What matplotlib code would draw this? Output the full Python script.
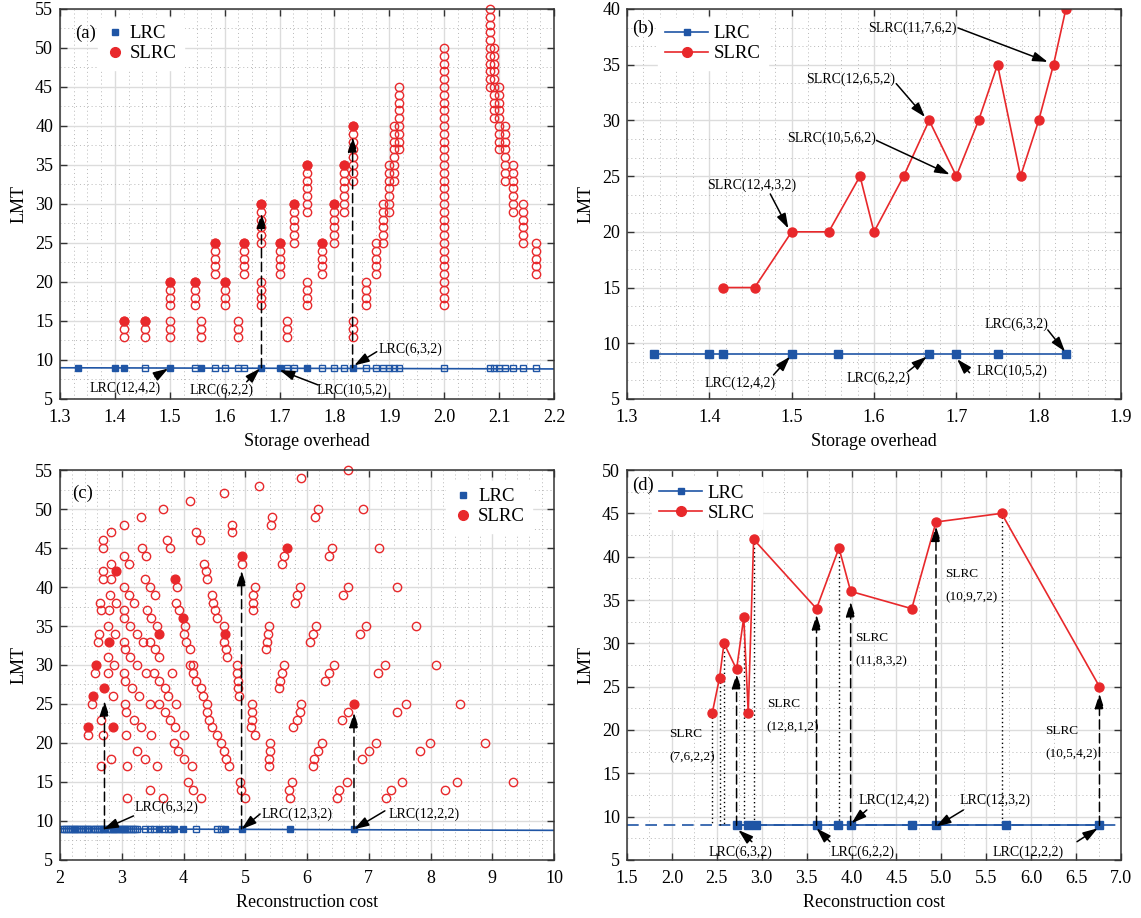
import matplotlib
matplotlib.use("Agg")
import matplotlib.pyplot as plt
from matplotlib.ticker import MultipleLocator, AutoMinorLocator
from matplotlib.lines import Line2D

plt.rcParams["font.family"] = ["Liberation Serif", "DejaVu Serif"]

BLUE = "#1f55a5"
RED = "#e8282b"

# LMT of every LRC code
LRC_LMT = 9

# (b) storage overhead, Pareto codes
lrc_b_x = [1.333, 1.4, 1.417, 1.5, 1.556, 1.667, 1.7, 1.75, 1.833]
slrc_b_x = [1.417, 1.455, 1.5, 1.545, 1.583, 1.6, 1.636, 1.667, 1.7, 1.727,
            1.75, 1.778, 1.8, 1.818, 1.833]
slrc_b_lmt = [15, 15, 20, 20, 25, 20, 25, 30, 25, 30, 35, 25, 30, 35, 40]

# (a) all codes over storage overhead
lrc_a_open_x = [1.455, 1.545, 1.583, 1.6, 1.625, 1.636, 1.714, 1.727, 1.778,
                1.8, 1.818, 1.857, 1.875, 1.889, 1.9, 1.909, 1.917, 2.0,
                2.083, 2.091, 2.1, 2.111, 2.125, 2.143, 2.167]
lrc_a_line_x = [1.3, 2.2]
lrc_a_line_y = [9.0, 8.85]
slrc_a_x = [1.417, 1.455, 1.5, 1.545, 1.556, 1.583, 1.6, 1.625, 1.636, 1.667,
            1.7, 1.714, 1.727, 1.75, 1.778, 1.8, 1.818, 1.833, 1.857, 1.875,
            1.889, 1.9, 1.909, 1.917, 2.0, 2.083, 2.091, 2.1, 2.111, 2.125,
            2.143, 2.167]
slrc_a_lmt = [
    [13, 14, 15],
    [13, 14, 15],
    [13, 14, 15, 17, 18, 19, 20],
    [17, 18, 19, 20],
    [13, 14, 15],
    [21, 22, 23, 24, 25],
    [17, 18, 19, 20],
    [13, 14, 15],
    [21, 22, 23, 24, 25],
    [17, 18, 19, 20, 25, 26, 27, 28, 29, 30],
    [21, 22, 23, 24, 25],
    [13, 14, 15],
    [25, 26, 27, 28, 29, 30],
    [17, 18, 19, 20, 29, 30, 31, 32, 33, 34, 35],
    [21, 22, 23, 24, 25],
    [25, 26, 27, 28, 29, 30],
    [29, 30, 31, 32, 33, 34, 35],
    [13, 14, 15, 33, 34, 35, 36, 37, 38, 39, 40],
    [17, 18, 19, 20],
    [21, 22, 23, 24, 25],
    [25, 26, 27, 28, 29, 30],
    [29, 30, 31, 32, 33, 34, 35],
    [33, 34, 35, 36, 37, 38, 39, 40],
    [37, 38, 39, 40, 41, 42, 43, 44, 45],
    [17, 18, 19, 20, 21, 22, 23, 24, 25, 26, 27, 28, 29, 30, 31, 32, 33,
     34, 35, 36, 37, 38, 39, 40, 41, 42, 43, 44, 45, 46, 47, 48, 49, 50],
    [45, 46, 47, 48, 49, 50, 51, 52, 53, 54, 55],
    [41, 42, 43, 44, 45, 46, 47, 48, 49, 50],
    [37, 38, 39, 40, 41, 42, 43, 44, 45],
    [33, 34, 35, 36, 37, 38, 39, 40],
    [29, 30, 31, 32, 33, 34, 35],
    [25, 26, 27, 28, 29, 30],
    [21, 22, 23, 24, 25],
]

# (d) reconstruction cost, Pareto codes
lrc_d_x = [2.72, 2.85, 2.94, 3.61, 3.85, 3.99, 4.67, 4.94, 5.72, 6.76]
slrc_d_x = [2.45, 2.53, 2.58, 2.72, 2.80, 2.85, 2.91, 3.61, 3.86, 3.99,
            4.67, 4.94, 5.67, 6.76]
slrc_d_lmt = [22, 26, 30, 27, 33, 22, 42, 34, 41, 36, 34, 44, 45, 25]

# (c) all codes over reconstruction cost
lrc_c_open_x = [2.04, 2.07, 2.1, 2.13, 2.16, 2.19, 2.22, 2.25, 2.28, 2.31,
                2.34, 2.37, 2.4, 2.43, 2.46, 2.5, 2.53, 2.56, 2.6, 2.63,
                2.66, 2.69, 2.76, 2.79, 2.82, 2.88, 2.91, 2.97, 3.0, 3.03,
                3.06, 3.09, 3.12, 3.15, 3.18, 3.21, 3.24, 3.37, 3.45, 3.52,
                3.68, 3.75, 3.8, 4.2, 4.55, 4.6]
lrc_c_line_x = [2, 10]
lrc_c_line_y = [9.0, 8.8]
slrc_c_points = [
    (6.67, 55), (5.90, 54), (5.23, 53), (4.65, 52), (4.11, 51), (3.67, 50),
    (3.31, 49), (3.04, 48), (2.82, 47), (2.70, 46), (2.70, 45), (3.74, 46),
    (3.78, 45), (4.21, 47), (4.26, 46), (4.78, 48), (4.79, 47), (5.43, 49),
    (5.41, 48), (4.94, 43), (5.63, 44), (5.59, 43), (3.33, 45), (3.40, 44),
    (3.03, 44), (3.12, 43), (2.83, 43), (2.69, 42), (2.69, 41), (2.83, 41),
    (3.37, 41), (3.45, 40), (3.53, 39), (3.90, 40), (4.33, 43), (4.36, 42),
    (4.38, 41), (5.16, 40), (5.13, 39), (5.13, 38), (5.13, 37), (5.89, 40),
    (5.84, 39), (5.81, 38), (3.03, 40), (3.12, 39), (3.20, 38), (2.81, 39),
    (2.91, 38), (2.65, 38), (2.66, 37), (2.80, 37), (3.04, 37), (3.04, 36),
    (3.13, 35), (3.41, 37), (3.48, 36), (3.57, 35), (3.88, 38), (3.93, 37),
    (4.02, 35), (4.00, 34), (4.04, 33), (4.11, 32), (4.46, 39), (4.48, 38),
    (4.51, 37), (4.54, 36), (4.65, 35), (4.66, 33), (4.69, 32), (4.70, 31),
    (5.39, 35), (5.36, 34), (5.35, 33), (5.33, 32), (2.77, 35), (2.63, 34),
    (2.62, 33), (2.89, 34), (3.04, 33), (3.05, 32), (3.24, 34), (3.35, 33),
    (3.46, 33), (3.54, 32), (3.61, 31), (3.14, 31), (3.25, 30), (2.77, 31),
    (2.87, 30), (2.57, 29), (2.78, 29), (3.04, 29), (3.05, 28), (3.16, 27),
    (3.28, 26), (3.39, 29), (3.52, 29), (3.61, 28), (3.70, 27), (3.75, 26),
    (3.81, 29), (4.11, 30), (4.16, 30), (4.15, 29), (4.21, 28), (4.28, 27),
    (4.32, 26), (4.38, 25), (4.38, 24), (4.41, 23), (4.46, 22), (4.54, 21),
    (4.61, 20), (4.65, 19), (4.69, 18), (4.74, 17), (4.86, 30), (4.87, 29),
    (4.89, 28), (4.89, 27), (4.90, 26), (5.63, 30), (5.60, 29), (5.56, 28),
    (5.54, 27), (2.52, 25), (2.86, 26), (2.67, 23), (2.70, 21), (2.45, 21),
    (2.82, 18), (2.66, 17), (3.05, 25), (3.07, 24), (3.20, 23), (3.31, 22),
    (3.45, 25), (3.60, 25), (3.70, 24), (3.78, 23), (3.86, 22), (3.88, 25),
    (4.00, 21), (3.84, 20), (3.91, 19), (4.00, 18), (4.13, 17), (4.08, 15),
    (4.16, 14), (4.29, 13), (3.07, 21), (3.48, 21), (3.24, 19), (3.37, 18),
    (3.57, 17), (3.08, 17), (3.09, 13), (3.45, 14), (3.67, 13), (4.91, 15),
    (4.93, 14), (4.99, 13), (5.11, 25), (5.11, 24), (5.11, 23), (5.10, 22),
    (5.15, 21), (5.40, 20), (5.40, 19), (5.39, 18), (5.38, 17), (5.91, 25),
    (5.88, 24), (5.83, 23), (5.78, 22), (5.76, 15), (5.71, 14), (5.72, 13),
    (6.18, 50), (6.13, 49), (6.91, 50), (6.41, 45), (6.35, 44), (7.17, 45),
    (6.66, 40), (6.59, 39), (7.45, 40), (6.15, 35), (6.09, 34), (6.05, 33),
    (6.96, 35), (6.85, 34), (7.77, 35), (6.44, 30), (6.36, 29), (6.29, 28),
    (7.26, 30), (7.15, 29), (8.09, 30), (6.66, 24), (6.57, 23), (7.61, 25),
    (7.46, 24), (8.48, 25), (6.25, 20), (6.18, 19), (6.11, 18), (6.10, 17),
    (7.12, 20), (7.00, 19), (6.89, 18), (7.99, 20), (7.83, 19), (8.88, 20),
    (6.64, 15), (6.52, 14), (6.49, 13), (7.53, 15), (7.36, 14), (7.28, 13),
    (8.43, 15), (8.23, 14), (9.34, 15),
]

ARROW = "-|>,head_length=0.75,head_width=0.24"


def style_axes(ax, xlim, ylim, xstep, xminor, ystep, yminor, xlabel):
    ax.set_xlim(*xlim)
    ax.set_ylim(*ylim)
    ax.xaxis.set_major_locator(MultipleLocator(xstep))
    ax.xaxis.set_minor_locator(AutoMinorLocator(xminor))
    ax.yaxis.set_major_locator(MultipleLocator(ystep))
    ax.yaxis.set_minor_locator(AutoMinorLocator(yminor))
    ax.set_axisbelow(True)
    ax.grid(True, which="major", color="#dcdcdc", lw=1.0)
    ax.grid(True, which="minor", color="#b8b8b8", lw=0.7, ls=(0, (1, 3)))
    ax.tick_params(which="major", direction="in", length=5, width=1.0,
                   top=True, right=True, labelsize=13, color="#333333")
    ax.tick_params(axis="x", which="major", pad=7)
    ax.tick_params(axis="y", which="major", pad=5)
    ax.tick_params(which="minor", length=0)
    for s in ax.spines.values():
        s.set_color("#333333")
        s.set_linewidth(1.1)
    ax.set_xlabel(xlabel, fontsize=13, labelpad=5)
    ax.set_ylabel("LMT", fontsize=13, labelpad=5)


def arrow(ax, tail, head, ls="-"):
    ax.annotate("", xy=head, xytext=tail,
                arrowprops=dict(arrowstyle=ARROW, color="k", lw=1.1, ls=ls,
                                mutation_scale=12, shrinkA=0, shrinkB=0))


def up_arrow(ax, x, y_top, gap):
    arrow(ax, (x, LRC_LMT), (x, y_top - gap), ls=(0, (6, 3)))


def note(ax, s, x, y):
    ax.text(x, y, s, fontsize=10, ha="center", va="center")


def legend(ax, lines, loc, anchor):
    h = []
    if lines:
        h.append(Line2D([], [], color=BLUE, lw=1.2, marker="s", ms=5))
        h.append(Line2D([], [], color=RED, lw=1.2, marker="o", ms=7))
        hl = 2.3
    else:
        h.append(Line2D([], [], ls="none", color=BLUE, marker="s", ms=5))
        h.append(Line2D([], [], ls="none", color=RED, marker="o", ms=7))
        hl = 1.0
    lg = ax.legend(h, ["LRC", "SLRC"], loc=loc, bbox_to_anchor=anchor,
                   fontsize=13.5, handlelength=hl, handletextpad=0.3,
                   labelspacing=0.15, borderpad=0.4, borderaxespad=0,
                   fancybox=False, framealpha=1, edgecolor="white")
    lg.set_zorder(5)


fig = plt.figure(figsize=(11.41, 9.18), dpi=100)
ax_a = fig.add_axes([0.0526, 0.5654, 0.4330, 0.4248])
ax_b = fig.add_axes([0.5495, 0.5654, 0.4330, 0.4248])
ax_c = fig.add_axes([0.0526, 0.0632, 0.4330, 0.4248])
ax_d = fig.add_axes([0.5495, 0.0632, 0.4330, 0.4248])

# ---- (a)
ax = ax_a
style_axes(ax, (1.3, 2.2), (5, 55), 0.1, 4, 5, 2, "Storage overhead")
ax.plot(lrc_a_line_x, lrc_a_line_y, color=BLUE, lw=1.2)
ax.plot(lrc_a_open_x, [LRC_LMT] * len(lrc_a_open_x), ls="none", marker="s",
        ms=5, mfc="none", mec=BLUE, mew=1)
ax.plot(lrc_b_x, [LRC_LMT] * len(lrc_b_x), ls="none", marker="s", ms=5,
        color=BLUE)
for x, ys in zip(slrc_a_x, slrc_a_lmt):
    ax.plot([x] * len(ys), ys, ls="none", marker="o", ms=6, mfc="none",
            mec=RED, mew=1, clip_on=False)
ax.plot(slrc_b_x, slrc_b_lmt, ls="none", marker="o", ms=6.3, color=RED)
up_arrow(ax, slrc_b_x[7], slrc_b_lmt[7], 1.2)
up_arrow(ax, slrc_b_x[14], slrc_b_lmt[14], 1.4)
note(ax, "LRC(12,4,2)", 1.418, 6.37)
arrow(ax, (1.473, 7.86), (1.497, 8.9))
note(ax, "LRC(6,2,2)", 1.595, 6.15)
arrow(ax, (1.640, 7.2), (1.664, 8.9))
note(ax, "LRC(10,5,2)", 1.831, 6.15)
arrow(ax, (1.770, 6.8), (1.700, 8.7))
note(ax, "LRC(6,3,2)", 1.938, 11.4)
arrow(ax, (1.877, 11.06), (1.836, 9.3))
ax.text(0.030, 0.938, "(a)", transform=ax.transAxes, fontsize=13.5,
        va="center", zorder=6)
legend(ax, False, "upper left", (0.077, 0.978))

# ---- (b)
ax = ax_b
style_axes(ax, (1.3, 1.9), (5, 40), 0.1, 5, 5, 3, "Storage overhead")
ax.plot(lrc_b_x, [LRC_LMT] * len(lrc_b_x), color=BLUE, lw=1.2, marker="s",
        ms=5.5)
ax.plot(slrc_b_x, slrc_b_lmt, color=RED, lw=1.2, marker="o", ms=6.5)
note(ax, "SLRC(11,7,6,2)", 1.646, 38.3)
arrow(ax, (1.702, 38.3), (1.811, 35.25))
note(ax, "SLRC(12,6,5,2)", 1.571, 33.7)
arrow(ax, (1.627, 33.3), (1.662, 30.3))
note(ax, "SLRC(10,5,6,2)", 1.549, 28.4)
arrow(ax, (1.603, 28.2), (1.692, 25.15))
note(ax, "SLRC(12,4,3,2)", 1.452, 24.2)
arrow(ax, (1.474, 23.4), (1.496, 20.3))
note(ax, "LRC(6,3,2)", 1.773, 11.74)
arrow(ax, (1.811, 11.2), (1.832, 9.25))
note(ax, "LRC(12,4,2)", 1.437, 6.4)
arrow(ax, (1.478, 7.16), (1.498, 8.8))
note(ax, "LRC(6,2,2)", 1.605, 6.9)
arrow(ax, (1.641, 7.45), (1.664, 8.8))
note(ax, "LRC(10,5,2)", 1.767, 7.45)
arrow(ax, (1.716, 7.36), (1.701, 8.57))
ax.text(0.010, 0.951, "(b)", transform=ax.transAxes, fontsize=13.5,
        va="center", zorder=6)
legend(ax, True, "upper left", (0.062, 0.978))

# ---- (c)
ax = ax_c
style_axes(ax, (2, 10), (5, 55), 1, 5, 5, 2, "Reconstruction cost")
ax.plot(lrc_c_line_x, lrc_c_line_y, color=BLUE, lw=1.2)
ax.plot(lrc_c_open_x, [LRC_LMT] * len(lrc_c_open_x), ls="none", marker="s",
        ms=5, mfc="none", mec=BLUE, mew=1)
ax.plot(lrc_d_x, [LRC_LMT] * len(lrc_d_x), ls="none", marker="s", ms=5,
        color=BLUE)
cx = [p[0] for p in slrc_c_points]
cy = [p[1] for p in slrc_c_points]
ax.plot(cx, cy, ls="none", marker="o", ms=6, mfc="none", mec=RED, mew=1,
        clip_on=False)
ax.plot(slrc_d_x, slrc_d_lmt, ls="none", marker="o", ms=6.3, color=RED)
for i, gap in [(3, 1.6), (11, 1.9), (13, 1.1)]:
    up_arrow(ax, slrc_d_x[i], slrc_d_lmt[i], gap)
note(ax, "LRC(6,3,2)", 3.72, 11.72)
arrow(ax, (3.19, 10.65), (2.70, 8.93))
note(ax, "LRC(12,3,2)", 5.83, 10.87)
arrow(ax, (5.24, 10.9), (4.94, 8.94))
note(ax, "LRC(12,2,2)", 7.90, 10.87)
arrow(ax, (7.26, 11.3), (6.76, 8.94))
ax.text(0.024, 0.941, "(c)", transform=ax.transAxes, fontsize=13.5,
        va="center", zorder=6)
legend(ax, False, "upper right", (0.956, 0.973))

# ---- (d)
ax = ax_d
style_axes(ax, (1.5, 7.0), (5, 50), 0.5, 2, 5, 2, "Reconstruction cost")
ax.axhline(LRC_LMT, color=BLUE, lw=1.2, ls=(0, (7, 4)))
for i in [0, 1, 2, 4, 6, 8, 12]:
    ax.plot([slrc_d_x[i]] * 2, [slrc_d_lmt[i], LRC_LMT], color="k", lw=1,
            ls=(0, (1, 2)))
ax.plot(lrc_d_x, [LRC_LMT] * len(lrc_d_x), color=BLUE, lw=1.2, marker="s",
        ms=5.5)
ax.plot(slrc_d_x, slrc_d_lmt, color=RED, lw=1.2, marker="o", ms=6.5)
for i, gap in [(3, 0.5), (7, 0.7), (9, 1.2), (11, 0.5), (13, 0.8)]:
    up_arrow(ax, slrc_d_x[i], slrc_d_lmt[i], gap)
note(ax, "LRC(6,3,2)", 2.76, 5.89)
arrow(ax, (2.89, 7.11), (2.74, 8.46))
note(ax, "LRC(6,2,2)", 4.12, 5.89)
arrow(ax, (3.76, 7.11), (3.61, 8.66))
note(ax, "LRC(12,4,2)", 4.47, 11.85)
arrow(ax, (4.17, 10.77), (4.0, 9.23))
note(ax, "LRC(12,3,2)", 5.60, 11.85)
arrow(ax, (5.245, 10.77), (4.94, 8.85))
note(ax, "LRC(12,2,2)", 5.96, 5.89)
arrow(ax, (6.51, 7.11), (6.74, 8.66))
for s1, s2, x, y in [("SLRC", "(7,6,2,2)", 1.97, 19.5),
                     ("SLRC", "(12,8,1,2)", 3.056, 23.0),
                     ("SLRC", "(11,8,3,2)", 4.04, 30.65),
                     ("SLRC", "(10,9,7,2)", 5.04, 38.0),
                     ("SLRC", "(10,5,4,2)", 6.155, 19.9)]:
    ax.text(x, y, s1, fontsize=9.5, ha="left", va="center")
    ax.text(x, y - 2.7, s2, fontsize=9.5, ha="left", va="center")
ax.text(0.010, 0.960, "(d)", transform=ax.transAxes, fontsize=13.5,
        va="center", zorder=6)
legend(ax, True, "upper left", (0.05, 0.981))

fig.savefig("out.png", dpi=100)
